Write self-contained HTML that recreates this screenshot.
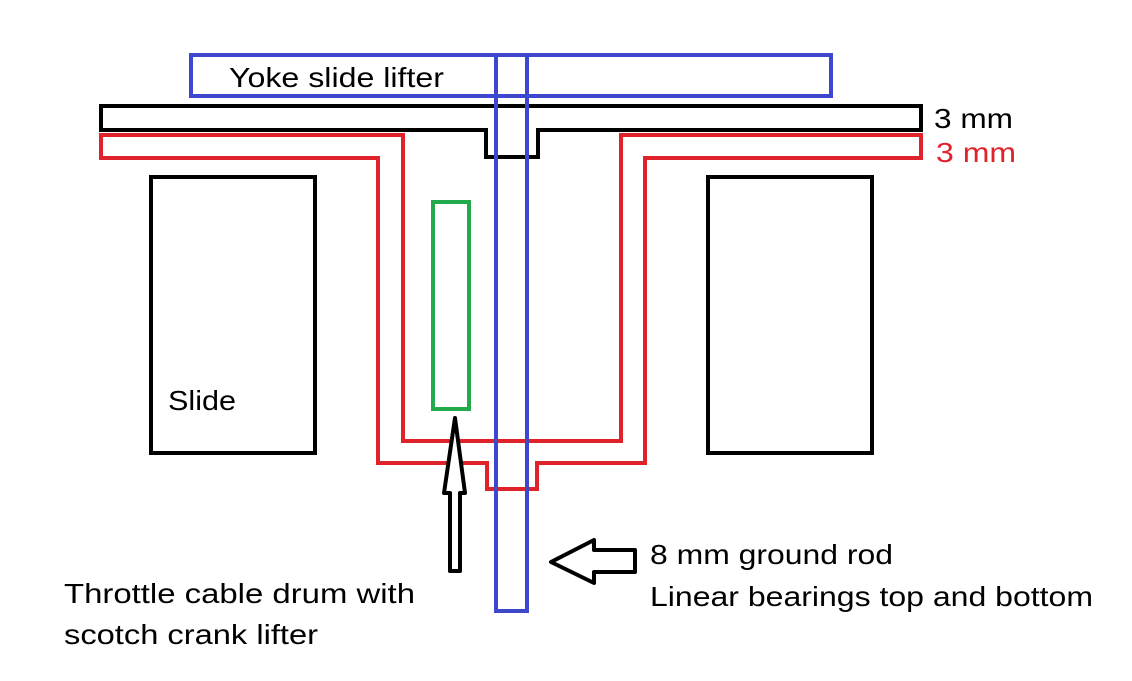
<!DOCTYPE html>
<html><head><style>
body{margin:0;background:#fff;}
svg{display:block;}
text{font-family:"Liberation Sans",sans-serif;font-size:28px;fill:#000;}
</style></head><body>
<svg width="1132" height="681" viewBox="0 0 1132 681">
<rect x="0" y="0" width="1132" height="681" fill="#fff"/>
<path d="M101,106 H921 V130 H538 V157 H486 V130 H101 Z" fill="none" stroke="#000" stroke-width="4"/>
<path d="M101,135 H403 V441 H621 V135 H921 V158 H645 V463 H537 V489 H487 V463 H378 V158 H101 Z" fill="none" stroke="#e0222a" stroke-width="4"/>
<rect x="151" y="177" width="164" height="276" fill="none" stroke="#000" stroke-width="4"/>
<rect x="708" y="177" width="164" height="276" fill="none" stroke="#000" stroke-width="4"/>
<rect x="433" y="202" width="36" height="207" fill="none" stroke="#22aa4c" stroke-width="4"/>
<rect x="191" y="55" width="640" height="41" fill="none" stroke="#3f48cc" stroke-width="4"/>
<rect x="496" y="55" width="31" height="556" fill="none" stroke="#3f48cc" stroke-width="4"/>
<path d="M455,418 L465,493 H460 V571 H450 V493 H444 Z" fill="#fff" stroke="#000" stroke-width="4" stroke-linejoin="round"/>
<path d="M551,562 L594,540 V550 H635 V572 H594 V583 Z" fill="#fff" stroke="#000" stroke-width="4" stroke-linejoin="round"/>
<text x="229" y="87" textLength="215" lengthAdjust="spacingAndGlyphs">Yoke slide lifter</text>
<text x="934" y="128" textLength="79" lengthAdjust="spacingAndGlyphs">3 mm</text>
<text x="936" y="162" textLength="80" lengthAdjust="spacingAndGlyphs" style="fill:#e0222a">3 mm</text>
<text x="168" y="410" textLength="68" lengthAdjust="spacingAndGlyphs">Slide</text>
<text x="64" y="603" textLength="351" lengthAdjust="spacingAndGlyphs">Throttle cable drum with</text>
<text x="64" y="644" textLength="254" lengthAdjust="spacingAndGlyphs">scotch crank lifter</text>
<text x="650" y="564" textLength="243" lengthAdjust="spacingAndGlyphs">8 mm ground rod</text>
<text x="650" y="606" textLength="443" lengthAdjust="spacingAndGlyphs">Linear bearings top and bottom</text>
</svg>
</body></html>
